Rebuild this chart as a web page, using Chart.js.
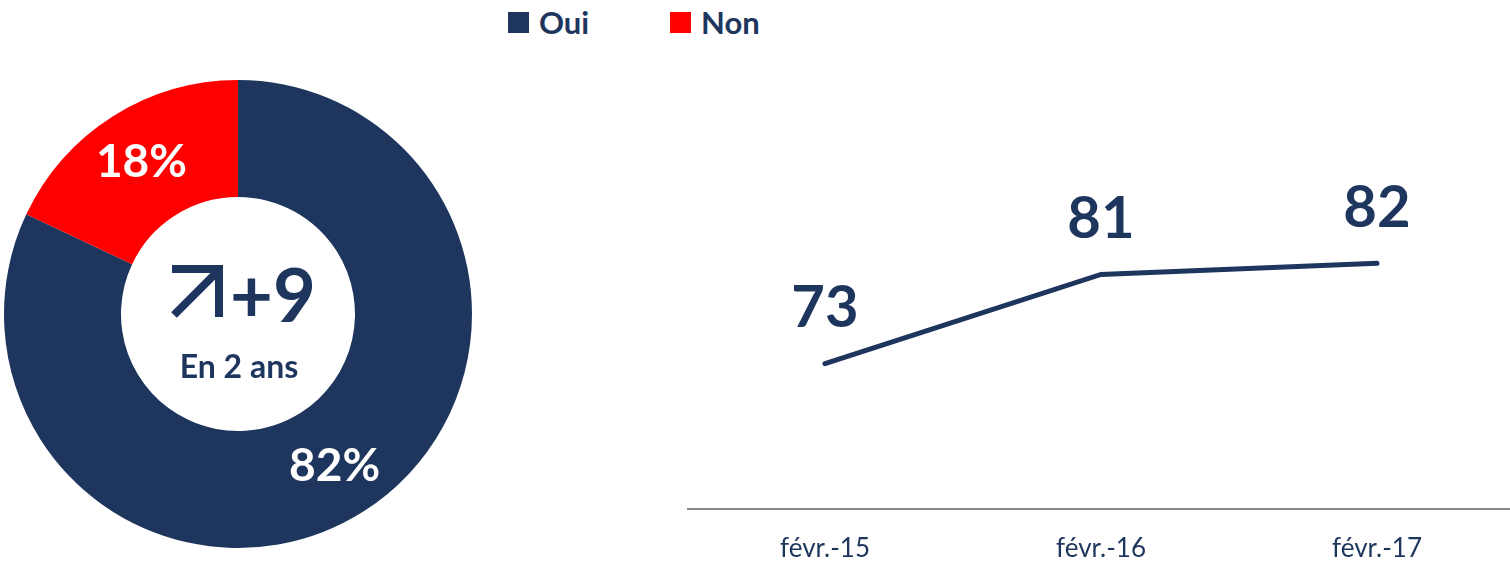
<!DOCTYPE html>
<html lang="fr">
<head>
  <meta charset="UTF-8" />
  <title>Oui / Non</title>
  <script src="https://cdn.jsdelivr.net/npm/chart.js"></script>
  <style>
    body {
      margin: 0;
      background: #fff;
      font-family: 'Lato', sans-serif;
      width: 1510px;
      height: 562px;
      overflow: hidden;
      position: relative;
    }
    .legend {
      position: absolute;
      top: 3px;
      left: 508px;
      display: flex;
    }
    .legend .item {
      display: flex;
      align-items: center;
      width: 162px;
      font-weight: 700;
      font-size: 31px;
      color: #1e365e;
    }
    .legend .box {
      width: 21px;
      height: 21px;
      margin-right: 10px;
    }
    #donutWrap {
      position: absolute;
      left: 4px;
      top: 80px;
      width: 468px;
      height: 468px;
    }
    #lineWrap {
      position: absolute;
      left: 687px;
      top: 150px;
      width: 828px;
      height: 438px;
    }
  </style>
</head>
<body>
  <div class="legend" id="legend"></div>
  <div id="donutWrap"><canvas id="donut"></canvas></div>
  <div id="lineWrap"><canvas id="line"></canvas></div>

  <script>
    const NAVY = '#1e365e';
    const RED = '#ff0000';

    // doughnut
    const shareLabels = ['Oui', 'Non'];
    const shareValues = [82, 18];
    const shareColors = [NAVY, RED];
    const centerDelta = '+9';
    const centerCaption = 'En 2 ans';

    // line
    const periods = ['févr.-15', 'févr.-16', 'févr.-17'];
    const ouiTrend = [73, 81, 82];

    // legend
    const legend = document.getElementById('legend');
    shareLabels.forEach((name, i) => {
      const item = document.createElement('div');
      item.className = 'item';
      item.innerHTML = '<span class="box" style="background:' + shareColors[i] + '"></span>' + name;
      legend.appendChild(item);
    });

    const donutText = {
      id: 'donutText',
      afterDatasetsDraw(chart) {
        const { ctx } = chart;
        const meta = chart.getDatasetMeta(0);
        ctx.save();
        ctx.textAlign = 'center';
        ctx.textBaseline = 'middle';
        ctx.fillStyle = '#fff';
        ctx.font = 'bold 46px Lato';
        meta.data.forEach((arc, i) => {
          const { x, y, outerRadius } = arc.getProps(['x', 'y', 'outerRadius']);
          const mid = (arc.startAngle + arc.endAngle) / 2;
          const r = outerRadius * 0.77;
          ctx.fillText(shareValues[i] + '%', x + Math.cos(mid) * r, y + Math.sin(mid) * r);
        });

        // centre
        const cx = meta.data[0].x, cy = meta.data[0].y;
        ctx.fillStyle = NAVY;
        ctx.font = 'bold 74px Lato';
        ctx.textAlign = 'left';
        ctx.fillText(centerDelta, cx - 8, cy - 16);
        // arrow
        ctx.strokeStyle = NAVY;
        ctx.lineWidth = 8;
        ctx.lineJoin = 'miter';
        ctx.lineCap = 'butt';
        ctx.beginPath();
        ctx.moveTo(cx - 66, cy - 45);
        ctx.lineTo(cx - 19, cy - 45);
        ctx.lineTo(cx - 19, cy + 3);
        ctx.stroke();
        ctx.beginPath();
        ctx.moveTo(cx - 64, cy + 1);
        ctx.lineTo(cx - 22, cy - 41);
        ctx.stroke();
        ctx.textAlign = 'center';
        ctx.font = 'bold 32px Lato';
        ctx.fillText(centerCaption, cx + 1, cy + 54);
        ctx.restore();
      }
    };

    new Chart(document.getElementById('donut'), {
      type: 'doughnut',
      data: {
        labels: shareLabels,
        datasets: [{
          data: shareValues,
          backgroundColor: shareColors,
          borderWidth: 0
        }]
      },
      options: {
        animation: false,
        responsive: true,
        maintainAspectRatio: false,
        cutout: '50%',
        plugins: { legend: { display: false }, tooltip: { enabled: false } }
      },
      plugins: [donutText]
    });

    const pointValues = {
      id: 'pointValues',
      afterDatasetsDraw(chart) {
        const { ctx } = chart;
        const meta = chart.getDatasetMeta(0);
        ctx.save();
        ctx.fillStyle = NAVY;
        ctx.font = 'bold 58px Lato';
        ctx.textAlign = 'center';
        ctx.textBaseline = 'middle';
        meta.data.forEach((pt, i) => {
          ctx.fillText(String(ouiTrend[i]), pt.x, pt.y - 55);
        });
        ctx.restore();
      }
    };

    new Chart(document.getElementById('line'), {
      type: 'line',
      data: {
        labels: periods,
        datasets: [{
          data: ouiTrend,
          borderColor: NAVY,
          borderWidth: 5,
          borderCapStyle: 'round',
          pointRadius: 0,
          tension: 0,
          fill: false
        }]
      },
      options: {
        animation: false,
        responsive: true,
        maintainAspectRatio: false,
        layout: { padding: { top: 24, left: 0, right: 0, bottom: 0 } },
        scales: {
          x: {
            offset: true,
            grid: { display: false, drawTicks: false },
            border: { display: true, color: '#898989', width: 2 },
            ticks: { color: NAVY, font: { family: 'Lato', size: 26 }, padding: 24 }
          },
          y: { display: false, min: 60, max: 90 }
        },
        plugins: { legend: { display: false }, tooltip: { enabled: false } }
      },
      plugins: [pointValues]
    });
  </script>
</body>
</html>
